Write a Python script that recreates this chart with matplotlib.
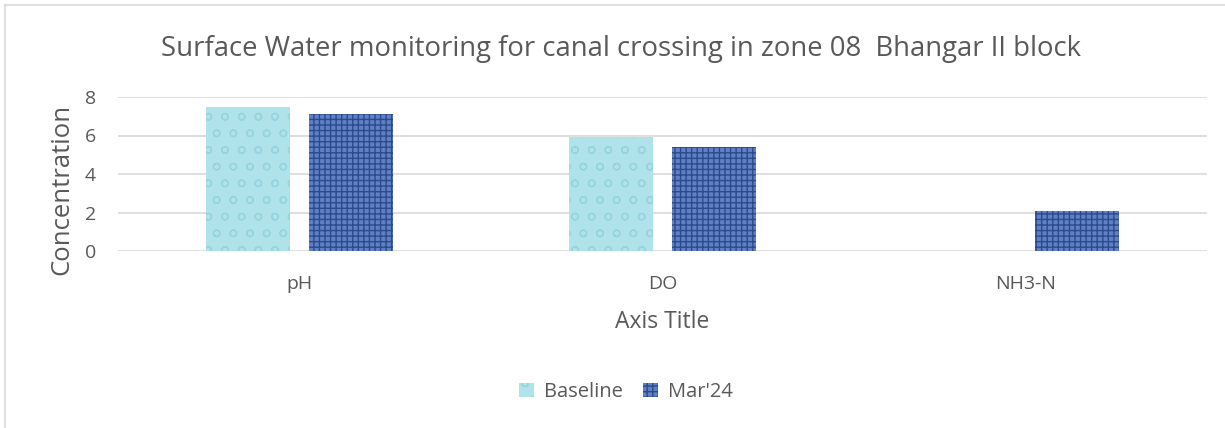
import matplotlib
matplotlib.use("Agg")
import matplotlib.pyplot as plt
import numpy as np
from matplotlib.lines import Line2D

categories = ["pH", "DO", "NH3-N"]
baseline = [7.5, 5.9, 0.0]
mar24 = [7.1, 5.4, 2.1]
series_names = ["Baseline", "Mar'24"]
yticks = [0, 2, 4, 6, 8]

plt.rcParams['font.family'] = ['Open Sans', 'DejaVu Sans']
plt.rcParams['hatch.linewidth'] = 1.0

W, H = 1225, 428
fig = plt.figure(figsize=(W/100, H/100), dpi=100)
# chart area border (top and left visible)
fig.add_artist(Line2D([5/W, 1.0], [1 - 5/H, 1 - 5/H], transform=fig.transFigure,
                      color='#d9d9d9', linewidth=1.2))
fig.add_artist(Line2D([5/W, 5/W], [0.0, 1 - 5/H], transform=fig.transFigure,
                      color='#d9d9d9', linewidth=1.2))
ax = fig.add_axes([118/W, 1 - 251/H, (1207 - 118)/W, (251 - 97)/H])

x = np.arange(len(categories))
w = 0.229
gap = 0.055
b1 = ax.bar(x - (w + gap)/2, baseline, w, color='#b0e2ea', edgecolor='#98d4de',
            hatch='o', linewidth=0, label=series_names[0], zorder=2)
b2 = ax.bar(x + (w + gap)/2, mar24, w, color='#5f80c4', edgecolor='#2c4a8c',
            hatch='+++', linewidth=0, label=series_names[1], zorder=2)

ax.set_xlim(-0.5, len(categories) - 0.5)
ax.set_ylim(0, 8)
ax.set_yticks(yticks)
ax.set_xticks(x)
ax.set_xticklabels(categories, fontsize=14, color='#595959')
ax.tick_params(axis='y', labelsize=14, colors='#595959', length=0, pad=16)
ax.tick_params(axis='x', length=0, pad=17)
ax.grid(axis='y', color='#d9d9d9', linewidth=1.2, zorder=0)
ax.set_axisbelow(True)
for s in ax.spines.values():
    s.set_visible(False)

ax.set_ylabel("Concentration", fontsize=18.5, color='#595959')
ax.yaxis.set_label_coords(-0.040, 0.40)
ax.set_xlabel("Axis Title", fontsize=16.5, color='#595959')
ax.xaxis.set_label_coords(0.5, (251 - 310) / 154)
fig.text(621/W, 1 - 56/H, "Surface Water monitoring for canal crossing in zone 08  Bhangar II block",
         fontsize=19.8, color='#595959', ha='center', va='baseline')

leg = fig.legend(handles=[b1, b2], labels=series_names, loc='center',
                 bbox_to_anchor=(626/W, 1 - 392/H), ncol=2, frameon=False,
                 fontsize=14.5, handlelength=0.75, handleheight=0.75, handletextpad=0.5,
                 columnspacing=1.0, labelcolor='#595959')

fig.savefig("out.png", dpi=100)
